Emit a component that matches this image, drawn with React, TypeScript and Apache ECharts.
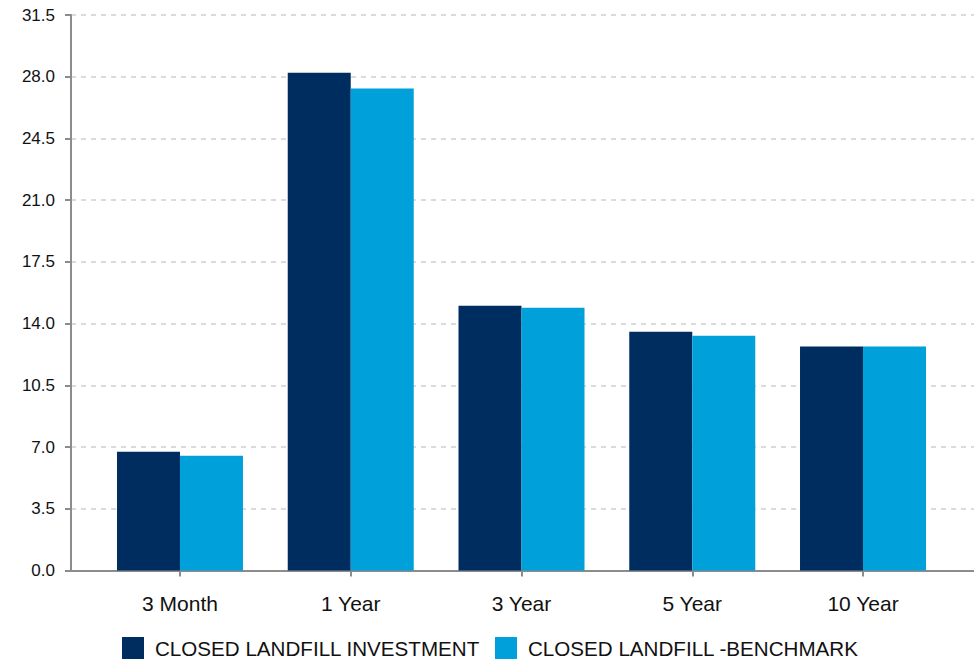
import React, { useEffect, useRef } from "react";
import * as echarts from "echarts";

const categories = ["3 Month", "1 Year", "3 Year", "5 Year", "10 Year"];
const investment = [6.73, 28.23, 15.01, 13.54, 12.7];
const benchmark = [6.5, 27.33, 14.9, 13.31, 12.7];
const seriesNames = ["CLOSED LANDFILL INVESTMENT", "CLOSED LANDFILL -BENCHMARK"];
const yMin = 0;
const yMax = 31.5;
const yInterval = 3.5;

const FONT = "'Liberation Sans', Arial, Helvetica, sans-serif";

export default function App() {
  const ref = useRef<HTMLDivElement>(null);
  useEffect(() => {
    if (!ref.current) return;
    const chart = echarts.init(ref.current, undefined, { renderer: "svg" });
    chart.setOption({
      animation: false,
      backgroundColor: "#ffffff",
      textStyle: { fontFamily: FONT },
      legend: {
        data: seriesNames,
        left: 122,
        top: 637,
        padding: 0,
        itemWidth: 22,
        itemHeight: 22,
        itemGap: 15,
        icon: "rect",
        textStyle: { fontSize: 20.6, color: "#111", fontFamily: FONT, lineHeight: 22, padding: [0, 0, 0, 6] },
      },
      grid: [
        { left: 71, right: 0, top: 15, bottom: 88.5, containLabel: false },
        { left: 94.6, right: 25.6, top: 15, bottom: 88.5, containLabel: false },
      ],
      xAxis: [
        {
          gridIndex: 0,
          type: "value",
          min: 0,
          max: 1,
          axisLine: { show: true, onZero: false, lineStyle: { color: "#8c8c8c", width: 2 } },
          axisTick: { show: false },
          axisLabel: { show: false },
          splitLine: { show: false },
        },
        {
          gridIndex: 1,
          type: "category",
          data: categories,
          axisLine: { show: false },
          axisTick: { show: true, alignWithLabel: true, length: 6, lineStyle: { color: "#8c8c8c", width: 2 } },
          axisLabel: { fontSize: 21, color: "#111", margin: 22, fontFamily: FONT },
          splitLine: { show: false },
        },
      ],
      yAxis: [
        {
          gridIndex: 0,
          type: "value",
          min: yMin,
          max: yMax,
          interval: yInterval,
          axisLine: { show: true, lineStyle: { color: "#8c8c8c", width: 2 } },
          axisTick: { show: true, length: 6, lineStyle: { color: "#8c8c8c", width: 2 } },
          axisLabel: {
            fontSize: 17,
            color: "#111",
            margin: 16,
            fontFamily: FONT,
            formatter: (v: number) => v.toFixed(1),
          },
          splitLine: { show: true, lineStyle: { color: "#d0d0d0", width: 1.5, type: [5, 5] } },
        },
        {
          gridIndex: 1,
          type: "value",
          min: yMin,
          max: yMax,
          interval: yInterval,
          show: false,
          splitLine: { show: false },
        },
      ],
      series: [
        {
          name: seriesNames[0],
          type: "bar",
          xAxisIndex: 1,
          yAxisIndex: 1,
          data: investment,
          barWidth: 63,
          barGap: "0%",
          itemStyle: { color: "#002d5f" },
        },
        {
          name: seriesNames[1],
          type: "bar",
          xAxisIndex: 1,
          yAxisIndex: 1,
          data: benchmark,
          barWidth: 63,
          barGap: "0%",
          itemStyle: { color: "#00a0da" },
        },
      ],
    });
    return () => chart.dispose();
  }, []);
  return <div ref={ref} style={{ width: 974, height: 659, position: "absolute", left: 0, top: 0 }} />;
}
